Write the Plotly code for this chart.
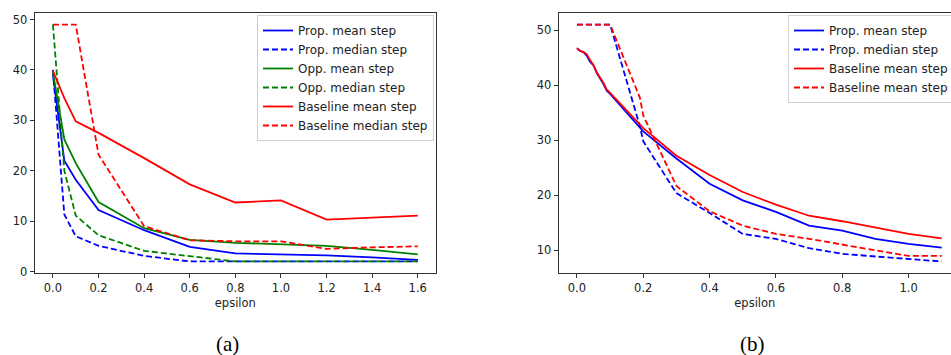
import plotly.graph_objects as go

# ---------- Panel (a) ----------
eps_a = [0.0, 0.05, 0.1, 0.2, 0.4, 0.6, 0.8, 1.0, 1.2, 1.4, 1.6]
prop_mean_a = [39.0, 22.0, 18.2, 12.2, 8.2, 4.9, 3.6, 3.4, 3.2, 2.8, 2.3]
prop_median_a = [40.0, 11.3, 7.0, 5.1, 3.1, 2.0, 2.0, 2.0, 2.0, 2.0, 2.0]
opp_mean_a = [39.5, 26.2, 21.5, 13.8, 8.6, 6.3, 5.7, 5.4, 5.1, 4.3, 3.4]
opp_median_a = [49.0, 20.0, 11.1, 7.2, 4.1, 3.1, 2.0, 2.0, 2.0, 2.0, 2.0]
base_mean_a = [39.8, 34.4, 29.8, 27.5, 22.5, 17.3, 13.7, 14.1, 10.3, 10.7, 11.1]
base_median_a = [49.0, 49.0, 49.0, 23.2, 9.0, 6.2, 6.0, 6.0, 4.5, 4.8, 5.0]

# ---------- Panel (b) ----------
eps_b = [0.0, 0.01, 0.02, 0.03, 0.04, 0.05, 0.06, 0.07, 0.08, 0.09, 0.1,
         0.2, 0.3, 0.4, 0.5, 0.6, 0.7, 0.8, 0.9, 1.0, 1.1]
prop_mean_b = [46.7, 46.2, 46.0, 45.3, 44.2, 43.6, 42.2, 41.3, 40.2, 39.0, 38.4,
               31.6, 26.7, 22.1, 19.1, 17.0, 14.5, 13.6, 12.1, 11.2, 10.5]
base_mean_b = [46.7, 46.2, 46.0, 45.6, 44.5, 43.6, 42.3, 41.4, 40.4, 39.2, 38.6,
               32.2, 27.2, 23.7, 20.6, 18.3, 16.3, 15.3, 14.2, 13.0, 12.2]
eps_b_med = [0.0, 0.1, 0.19, 0.2, 0.3, 0.4, 0.5, 0.6, 0.7, 0.8, 0.9, 1.0, 1.1]
prop_median_b = [51.0, 51.0, 32.5, 29.8, 20.4, 16.8, 13.0, 12.1, 10.4, 9.4, 8.9, 8.5, 8.0]
base_median_b = [51.0, 51.0, 37.7, 34.5, 21.7, 17.1, 14.5, 13.0, 12.1, 11.1, 10.0, 9.0, 9.0]

BLUE, GREEN, RED = "#0000ff", "#008000", "#ff0000"
DASH = "6px,3px"
LW = 1.8

fig = go.Figure()

def add(x, y, name, color, dash, xa, ya, legend):
    fig.add_trace(go.Scatter(
        x=x, y=y, name=name, mode="lines",
        line=dict(color=color, width=LW, dash=dash),
        xaxis=xa, yaxis=ya, legend=legend))

add(eps_a, prop_mean_a, "Prop. mean step", BLUE, "solid", "x", "y", "legend")
add(eps_a, prop_median_a, "Prop. median step", BLUE, DASH, "x", "y", "legend")
add(eps_a, opp_mean_a, "Opp. mean step", GREEN, "solid", "x", "y", "legend")
add(eps_a, opp_median_a, "Opp. median step", GREEN, DASH, "x", "y", "legend")
add(eps_a, base_mean_a, "Baseline mean step", RED, "solid", "x", "y", "legend")
add(eps_a, base_median_a, "Baseline median step", RED, DASH, "x", "y", "legend")

add(eps_b, prop_mean_b, "Prop. mean step", BLUE, "solid", "x2", "y2", "legend2")
add(eps_b_med, prop_median_b, "Prop. median step", BLUE, DASH, "x2", "y2", "legend2")
add(eps_b, base_mean_b, "Baseline mean step", RED, "solid", "x2", "y2", "legend2")
add(eps_b_med, base_median_b, "Baseline mean step", RED, DASH, "x2", "y2", "legend2")

W, H = 951, 355
tickfont = dict(family="DejaVu Sans", size=11.5, color="#222")
axis_common = dict(showgrid=False, zeroline=False, showline=True, linecolor="#333",
                   linewidth=1, ticks="outside", ticklen=4, tickcolor="#333",
                   tickfont=tickfont, automargin=False)
title_font = dict(family="DejaVu Sans", size=11.5, color="#222")

legend_common = dict(bgcolor="rgba(255,255,255,0.85)", bordercolor="#d0d0d0",
                     borderwidth=1, font=dict(family="DejaVu Sans", size=12, color="#222"),
                     xanchor="left", yanchor="top", tracegroupgap=0,
                     itemwidth=30)

fig.update_layout(
    width=W, height=H,
    margin=dict(l=0, r=0, t=0, b=0, autoexpand=False),
    paper_bgcolor="white", plot_bgcolor="white",
    showlegend=True,
    xaxis=dict(domain=[34.7 / W, 436 / W], range=[-0.08, 1.68],
               tickvals=[0, 0.2, 0.4, 0.6, 0.8, 1.0, 1.2, 1.4, 1.6], tickformat=".1f",
               mirror=True, anchor="y",
               title=dict(text="epsilon", font=title_font, standoff=4),
               **axis_common),
    yaxis=dict(domain=[(H - 273.3) / H, (H - 12.7) / H], range=[-0.35, 51.35],
               tickvals=[0, 10, 20, 30, 40, 50], mirror=True, anchor="x",
               **axis_common),
    xaxis2=dict(domain=[558.7 / W, 1.0], range=[-0.055, 1.128],
                tickvals=[0, 0.2, 0.4, 0.6, 0.8, 1.0], tickformat=".1f",
                mirror=True, anchor="y2",
                title=dict(text="epsilon", font=title_font, standoff=4),
                **axis_common),
    yaxis2=dict(domain=[(H - 273.3) / H, (H - 12.7) / H], range=[5.85, 53.15],
                tickvals=[10, 20, 30, 40, 50], mirror=False, anchor="x2",
                **axis_common),
    legend=dict(x=257 / W, y=1 - 15 / H, **legend_common),
    legend2=dict(x=788 / W, y=1 - 15 / H, **legend_common),
    annotations=[
        dict(text="(a)", x=227.5 / W, y=1 - 344 / H, xref="paper", yref="paper",
             xanchor="center", yanchor="middle",
             showarrow=False, font=dict(family="Liberation Serif", size=21, color="black")),
        dict(text="(b)", x=752 / W, y=1 - 344 / H, xref="paper", yref="paper",
             xanchor="center", yanchor="middle",
             showarrow=False, font=dict(family="Liberation Serif", size=21, color="black")),
    ],
)

fig.write_html(
    "out.html",
    config={"displayModeBar": False},
    post_script="document.body.style.margin='0';document.body.style.overflow='hidden';",
)
